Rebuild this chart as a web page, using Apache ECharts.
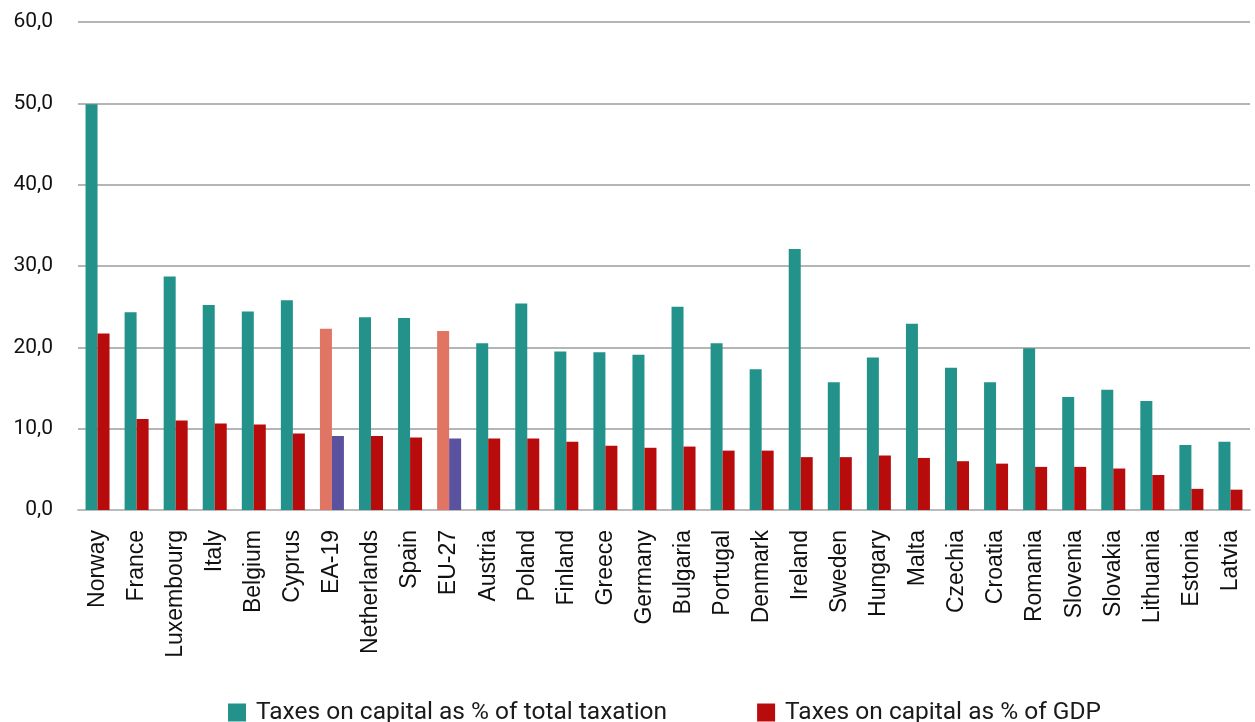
<!DOCTYPE html>
<html><head><meta charset="utf-8">
<script src="https://cdn.jsdelivr.net/npm/echarts@6/dist/echarts.min.js"></script>
<style>html,body{margin:0;padding:0;background:#fff}#c{width:1255px;height:722px}</style>
</head><body><div id="c"></div>
<script>
const categories = ["Norway","France","Luxembourg","Italy","Belgium","Cyprus","EA-19","Netherlands","Spain","EU-27","Austria","Poland","Finland","Greece","Germany","Bulgaria","Portugal","Denmark","Ireland","Sweden","Hungary","Malta","Czechia","Croatia","Romania","Slovenia","Slovakia","Lithuania","Estonia","Latvia"];
const pctTotalTaxation = [49.9,24.3,28.7,25.2,24.4,25.8,22.3,23.7,23.6,22.0,20.5,25.4,19.5,19.4,19.1,25.0,20.5,17.3,32.1,15.7,18.75,22.9,17.5,15.7,19.9,13.9,14.8,13.4,8.0,8.4];
const pctGDP = [21.7,11.2,11.0,10.65,10.5,9.4,9.1,9.1,8.9,8.8,8.8,8.8,8.4,7.9,7.65,7.8,7.3,7.3,6.5,6.5,6.7,6.4,6.0,5.7,5.3,5.3,5.1,4.3,2.6,2.5];
const aggregates = ["EA-19","EU-27"];
const yTicks = {min:0, max:60, interval:10};

const teal = '#22928A', red = '#B80C0C', salmon = '#E07563', purple = '#5A529E';
const chart = echarts.init(document.getElementById('c'), null, {renderer:'canvas'});
chart.setOption({
  animation:false,
  textStyle:{fontFamily:'Roboto'},
  grid:{left:78, right:5, top:22, bottom:212},
  legend:{
    left:228, top:700, padding:0, icon:'rect', itemWidth:18, itemHeight:18, itemGap:90,
    textStyle:{fontSize:24.5, color:'#1a1a1a', fontFamily:'Roboto', padding:[0,0,0,5]},
    data:[{name:'Taxes on capital as % of total taxation', itemStyle:{color:teal}},{name:'Taxes on capital as % of GDP', itemStyle:{color:red}}]
  },
  xAxis:{
    type:'category', data:categories,
    axisLine:{lineStyle:{color:'#BBBBBB', width:2}},
    axisTick:{show:false},
    axisLabel:{rotate:90, interval:0, fontSize:23, color:'#111', margin:20, fontFamily:'Liberation Sans'}
  },
  yAxis:{
    type:'value', min:yTicks.min, max:yTicks.max, interval:yTicks.interval,
    axisLabel:{fontSize:21, color:'#111', margin:25, formatter:v=>v.toFixed(1).replace('.',',')},
    splitLine:{lineStyle:{color:'#B5B5B5', width:2}},
    axisLine:{show:false}, axisTick:{show:false}
  },
  series:[
    {name:'Taxes on capital as % of total taxation', type:'bar', barWidth:12, barGap:'0%',
     data:pctTotalTaxation.map((v,i)=>aggregates.includes(categories[i])?{value:v,itemStyle:{color:salmon}}:v),
     itemStyle:{color:teal}},
    {name:'Taxes on capital as % of GDP', type:'bar', barWidth:12, barGap:'0%',
     data:pctGDP.map((v,i)=>aggregates.includes(categories[i])?{value:v,itemStyle:{color:purple}}:v),
     itemStyle:{color:red}}
  ]
});
</script></body></html>
